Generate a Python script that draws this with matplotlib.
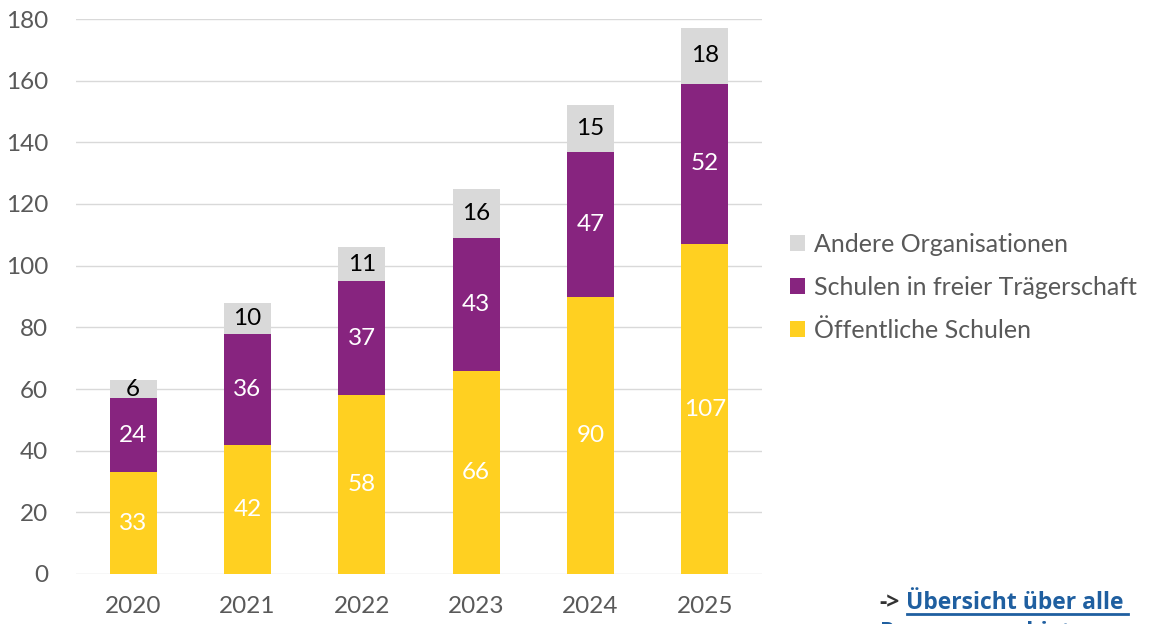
import matplotlib
matplotlib.use("Agg")
import matplotlib.pyplot as plt
from matplotlib.lines import Line2D

years = ["2020", "2021", "2022", "2023", "2024", "2025"]
oeffentlich = [33, 42, 58, 66, 90, 107]
frei = [24, 36, 37, 43, 47, 52]
andere = [6, 10, 11, 16, 15, 18]
series_names = ["Öffentliche Schulen", "Schulen in freier Trägerschaft", "Andere Organisationen"]
yticks = [0, 20, 40, 60, 80, 100, 120, 140, 160, 180]

colors = ["#FFD021", "#87247F", "#D9D9D9"]
label_colors = ["white", "white", "black"]

plt.rcParams['font.family'] = ['Lato', 'DejaVu Sans']

fig = plt.figure(figsize=(11.49, 6.24), dpi=100)
ax = fig.add_axes([76/1149, 1 - 574/624, (762-76)/1149, (574-19)/624])

x = list(range(len(years)))
bottom = [0]*len(years)
handles = []
for vals, col, lc, name in zip([oeffentlich, frei, andere], colors, label_colors, series_names):
    bars = ax.bar(x, vals, width=0.41, bottom=bottom, color=col, label=name, zorder=3)
    handles.append(bars)
    for xi, v, b in zip(x, vals, bottom):
        ax.text(xi, b + v/2, str(v), ha='center', va='center', color=lc, fontsize=17.5, zorder=4)
    bottom = [b + v for b, v in zip(bottom, vals)]

ax.set_xlim(-0.5, 5.5)
ax.set_ylim(0, 180)
ax.set_yticks(yticks)
ax.set_yticklabels([str(t) for t in yticks])
ax.set_xticks(x)
ax.set_xticklabels(years)
ax.tick_params(axis='both', length=0, labelsize=17.5, labelcolor='#595959')
ax.tick_params(axis='y', pad=20)
ax.tick_params(axis='x', pad=16)
ax.grid(axis='y', color='#D9D9D9', linewidth=1, zorder=0)
for s in ax.spines.values():
    s.set_visible(False)

leg = fig.legend(handles[::-1], series_names[::-1], loc='upper left',
                 bbox_to_anchor=(780/1149, 1 - 223/624), frameon=False,
                 fontsize=18, handlelength=0.6, handleheight=0.6, handletextpad=0.35,
                 labelspacing=0.8, borderaxespad=0)
for t in leg.get_texts():
    t.set_color('#595959')

fig.text(879/1149, 1 - 603/624, "->", fontsize=16.5, fontweight='bold', color='#333333',
         ha='left', va='center', family=['Open Sans', 'DejaVu Sans'])
fig.text(906/1149, 1 - 603/624, "Übersicht über alle ", fontsize=16.5, fontweight='bold',
         color='#1F5FA0', ha='left', va='center', family=['Open Sans', 'DejaVu Sans'])
fig.text(880/1149, 1 - 633/624, "Programmgebiete", fontsize=16.5, fontweight='bold',
         color='#1F5FA0', ha='left', va='center', family=['Open Sans', 'DejaVu Sans'])
fig.add_artist(Line2D([907/1149, 1128/1149], [1 - 614/624, 1 - 614/624],
                      color='#1F5FA0', linewidth=2))

fig.savefig("out.png", dpi=100)
